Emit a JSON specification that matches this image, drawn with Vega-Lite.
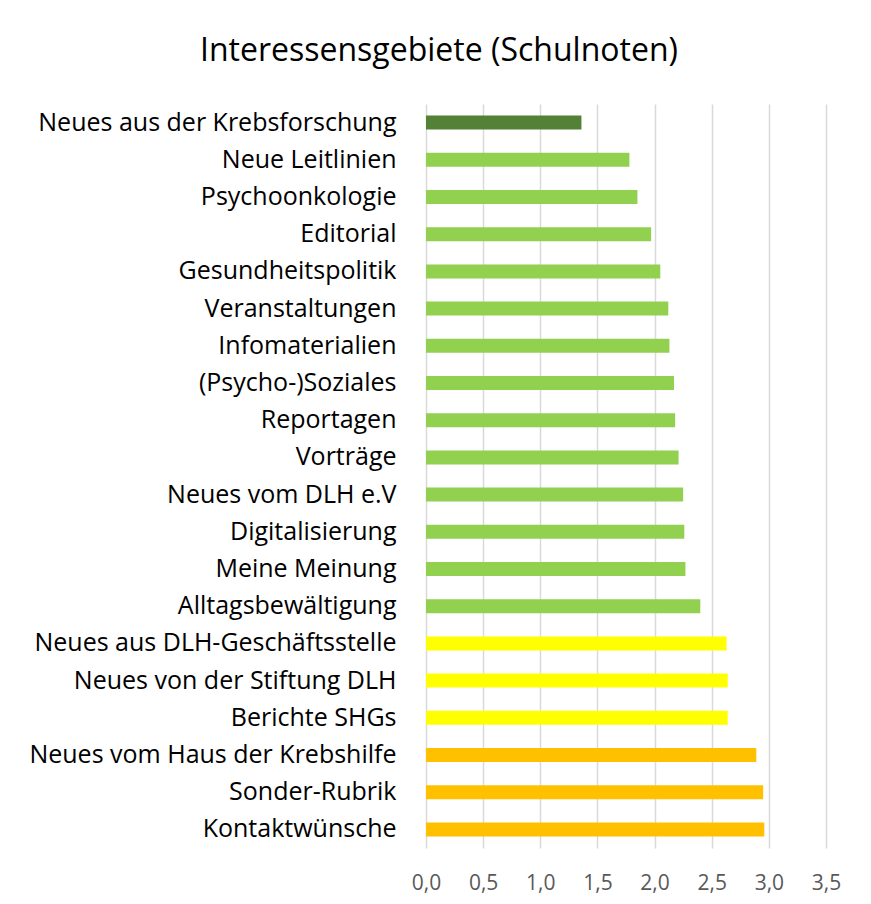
{
  "$schema": "https://vega.github.io/schema/vega-lite/v6.json",
  "autosize": "none",
  "width": 400,
  "height": 744,
  "padding": {"left": 426, "top": 104, "right": 45, "bottom": 56},
  "background": "white",
  "title": {
    "text": "Interessensgebiete (Schulnoten)",
    "font": "Open Sans",
    "fontSize": 32,
    "fontWeight": "normal",
    "color": "#000000",
    "anchor": "middle",
    "frame": "group",
    "dx": -187,
    "offset": 36
  },
  "data": {
    "values": [
      {"thema": "Neues aus der Krebsforschung", "note": 1.36, "gruppe": "A"},
      {"thema": "Neue Leitlinien", "note": 1.78, "gruppe": "B"},
      {"thema": "Psychoonkologie", "note": 1.85, "gruppe": "B"},
      {"thema": "Editorial", "note": 1.97, "gruppe": "B"},
      {"thema": "Gesundheitspolitik", "note": 2.05, "gruppe": "B"},
      {"thema": "Veranstaltungen", "note": 2.12, "gruppe": "B"},
      {"thema": "Infomaterialien", "note": 2.13, "gruppe": "B"},
      {"thema": "(Psycho-)Soziales", "note": 2.17, "gruppe": "B"},
      {"thema": "Reportagen", "note": 2.18, "gruppe": "B"},
      {"thema": "Vorträge", "note": 2.21, "gruppe": "B"},
      {"thema": "Neues vom DLH e.V", "note": 2.25, "gruppe": "B"},
      {"thema": "Digitalisierung", "note": 2.26, "gruppe": "B"},
      {"thema": "Meine Meinung", "note": 2.27, "gruppe": "B"},
      {"thema": "Alltagsbewältigung", "note": 2.4, "gruppe": "B"},
      {"thema": "Neues aus DLH-Geschäftsstelle", "note": 2.63, "gruppe": "C"},
      {"thema": "Neues von der Stiftung DLH", "note": 2.64, "gruppe": "C"},
      {"thema": "Berichte SHGs", "note": 2.64, "gruppe": "C"},
      {"thema": "Neues vom Haus der Krebshilfe", "note": 2.89, "gruppe": "D"},
      {"thema": "Sonder-Rubrik", "note": 2.95, "gruppe": "D"},
      {"thema": "Kontaktwünsche", "note": 2.96, "gruppe": "D"}
    ]
  },
  "mark": {"type": "bar", "size": 14},
  "encoding": {
    "y": {
      "field": "thema",
      "type": "nominal",
      "sort": null,
      "axis": {
        "title": null,
        "ticks": false,
        "domain": false,
        "grid": false,
        "labelFont": "Open Sans",
        "labelFontSize": 25,
        "labelColor": "#000000",
        "labelPadding": 30,
        "labelLimit": 500,
        "labelExpr": "datum.label == 'Kontaktwünsche' ? 'Kontaktwünsche\u00a0' : datum.label"
      }
    },
    "x": {
      "field": "note",
      "type": "quantitative",
      "scale": {"domain": [0, 3.5], "nice": false},
      "axis": {
        "title": null,
        "values": [0, 0.5, 1, 1.5, 2, 2.5, 3, 3.5],
        "labelExpr": "replace(format(datum.value, '.1f'), '.', ',')",
        "labelFlush": false,
        "labelOverlap": false,
        "domain": false,
        "ticks": false,
        "grid": true,
        "gridColor": "#D9D9D9",
        "gridWidth": 1.5,
        "labelFont": "Open Sans",
        "labelFontSize": 21,
        "labelColor": "#595959",
        "labelPadding": 24
      }
    },
    "color": {
      "field": "gruppe",
      "type": "nominal",
      "scale": {"domain": ["A", "B", "C", "D"], "range": ["#538135", "#92D050", "#FFFF00", "#FFC000"]},
      "legend": null
    }
  },
  "config": {"view": {"stroke": null}}
}
